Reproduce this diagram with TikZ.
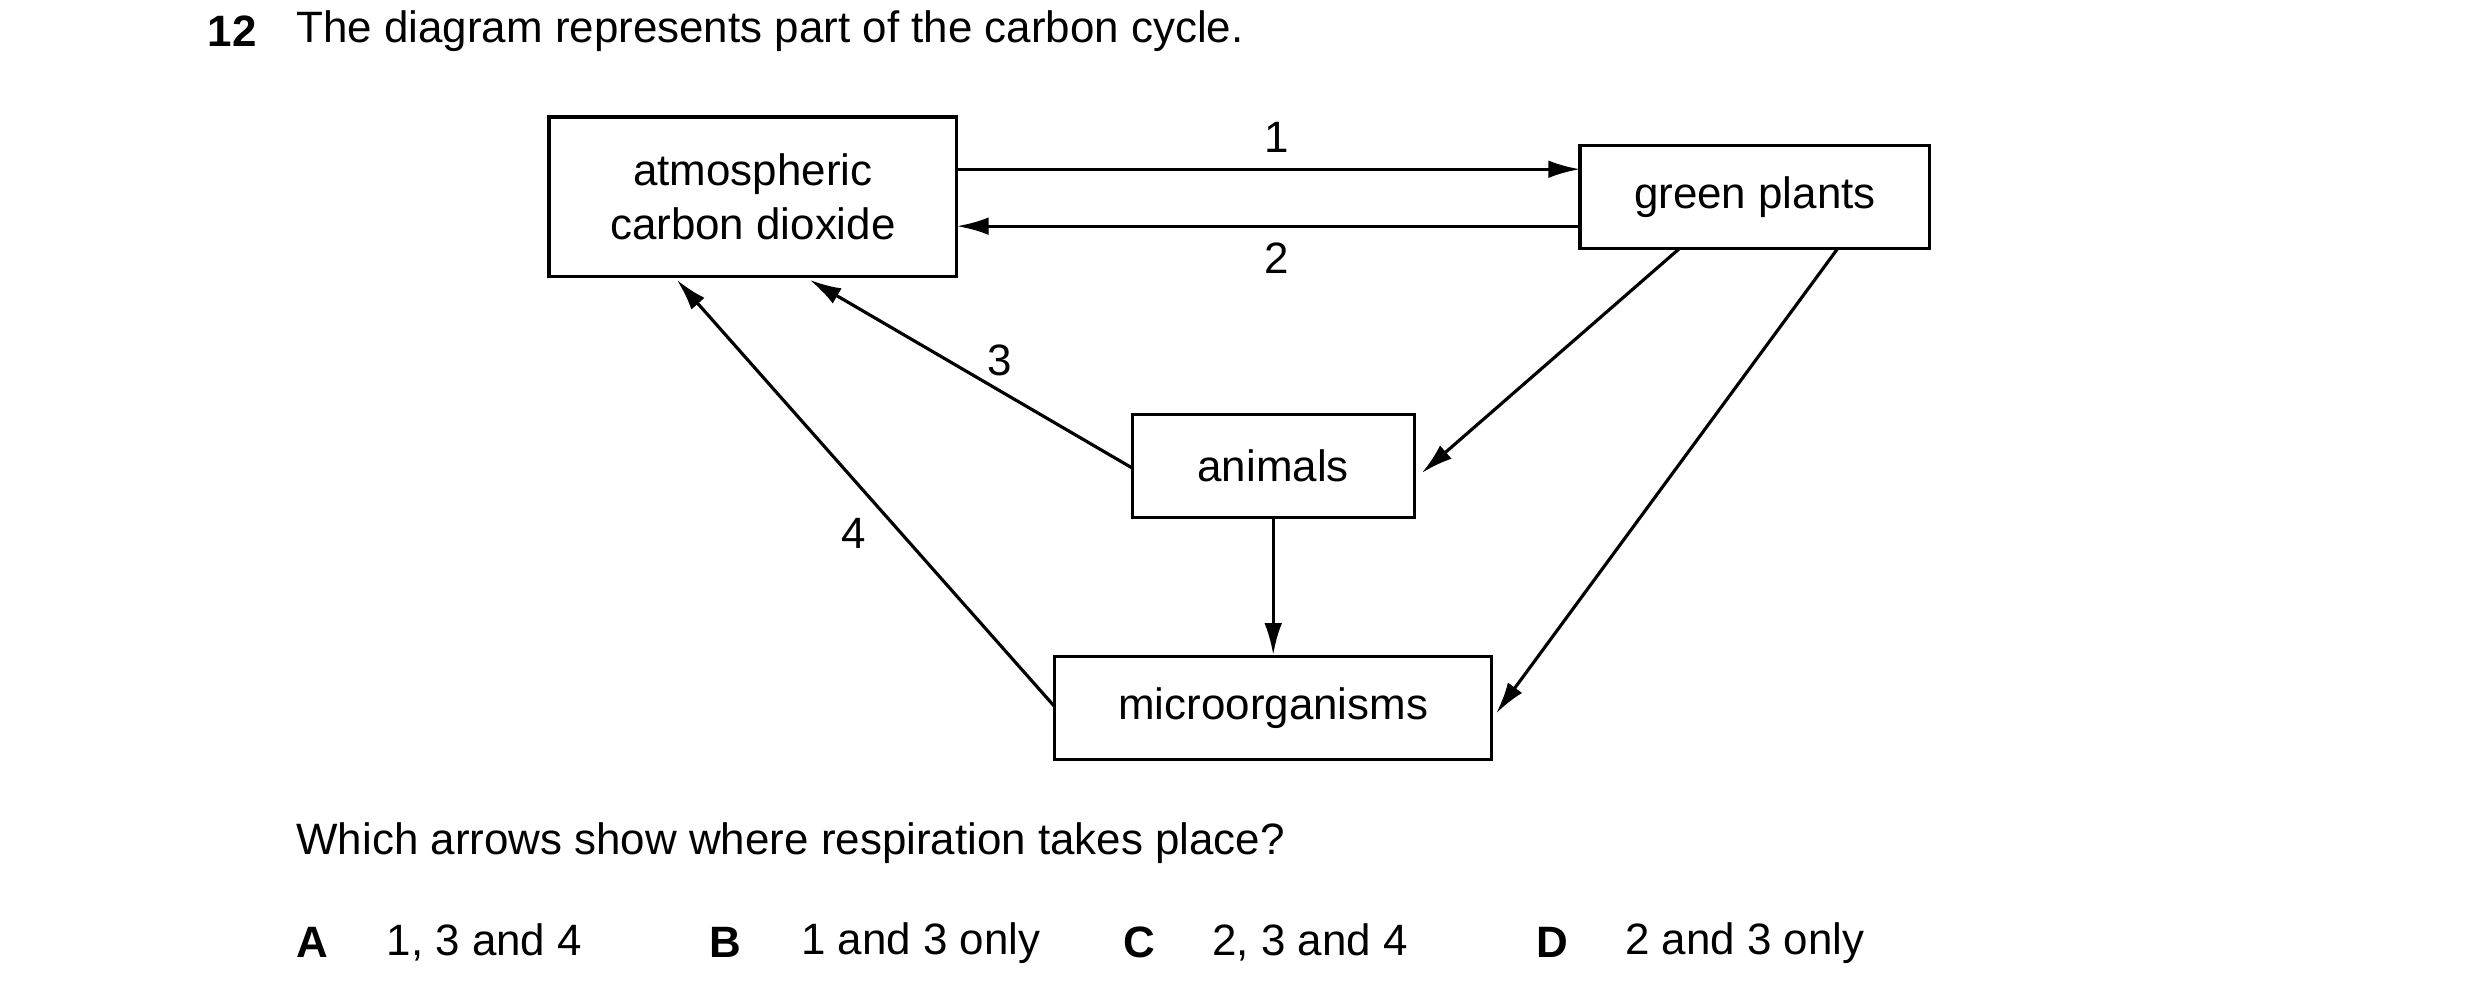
\documentclass[tikz,border=0pt]{standalone}
\usepackage{fontspec}
\setmainfont{Liberation Sans}
\usetikzlibrary{arrows.meta}
\tikzset{
  box/.style={draw, line width=0.9pt, minimum height=1.03cm, inner sep=0pt, align=center},
  flow/.style={-{Latex[length=9pt,width=5pt]}, line width=0.9pt},
  lbl/.style={inner sep=0pt}
}
\begin{document}
\begin{tikzpicture}[x=0.01582cm, y=-0.01582cm, font=\fontsize{12.5}{15.5}\selectfont]
  \useasboundingbox (0,0) rectangle (1568,636);

  \node[anchor=west, lbl] (num) at (131,20) {\textbf{12}};
  \node[anchor=west, lbl] (title) at (187,20) {The diagram represents part of the carbon cycle.};

  % boxes
  \node[box, minimum width=4.08cm, minimum height=1.6cm] (co2) at (476,124.5) {atmospheric\\carbon dioxide};
  \node[box, minimum width=3.5cm] (plants) at (1109.5,124.5) {green plants};
  \node[box, minimum width=2.82cm] (animals) at (805,294.5) {animals};
  \node[box, minimum width=4.37cm] (micro) at (805,447.5) {microorganisms};

  % end points
  \coordinate (p1a) at (605,107);  \coordinate (p1b) at (999,107);
  \coordinate (p2a) at (999,143);  \coordinate (p2b) at (605,143);
  \coordinate (p3a) at (716,296);  \coordinate (p3b) at (512,177);
  \coordinate (p4a) at (667,447);  \coordinate (p4b) at (428,177);
  \coordinate (gaa) at (1062,157); \coordinate (gab) at (899,299);
  \coordinate (gma) at (1162,157); \coordinate (gmb) at (946,451);
  \coordinate (ama) at (805,327);  \coordinate (amb) at (805,414);

  \draw[flow] (p1a) -- (p1b);
  \draw[flow] (p2a) -- (p2b);
  \draw[flow] (p3a) -- (p3b);
  \draw[flow] (p4a) -- (p4b);
  \draw[flow] (gaa) -- (gab);
  \draw[flow] (gma) -- (gmb);
  \draw[flow] (ama) -- (amb);

  \node[lbl] (n1) at (807,87) {1};
  \node[lbl] (n2) at (807,163) {2};
  \node[lbl] (n3) at (632,228) {3};
  \node[lbl] (n4) at (540,337) {4};

  \node[anchor=west, lbl] (q) at (187,533) {Which arrows show where respiration takes place?};

  % options
  \foreach \k/\xk/\xt/\txt in {A/187/244/{1, 3 and 4}, B/448/506/{1 and 3 only},
                               C/710/766/{2, 3 and 4}, D/971/1027/{2 and 3 only}}{
    \node[anchor=west, lbl] (opt\k) at (\xk,596) {\textbf{\k}};
    \node[anchor=west, lbl] (ans\k) at (\xt,596) {\txt};
  }
\end{tikzpicture}
\end{document}
